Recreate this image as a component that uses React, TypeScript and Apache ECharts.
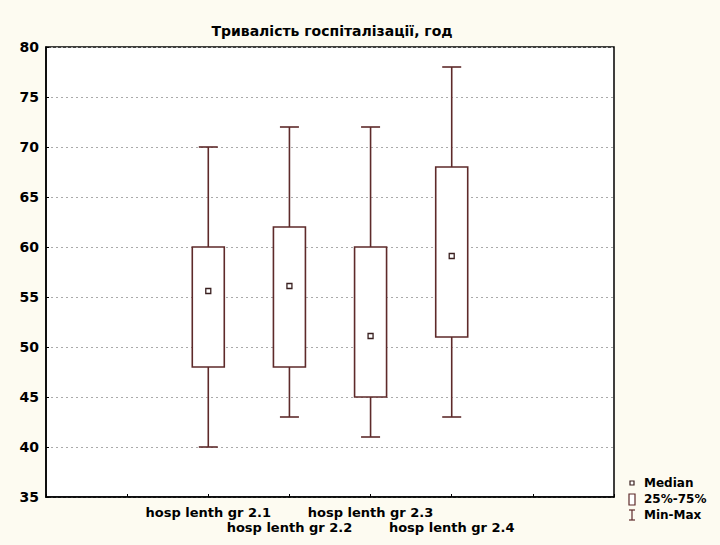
import React, { useEffect, useRef } from "react";
import * as echarts from "echarts";

const titleText = "Тривалість госпіталізації, год";
const categories = ["hosp lenth gr 2.1", "hosp lenth gr 2.2", "hosp lenth gr 2.3", "hosp lenth gr 2.4"];
const positions = [2, 3, 4, 5];
const mins = [40, 43, 41, 43];
const q1s = [48, 48, 45, 51];
const medians = [55.6, 56.1, 51.1, 59.1];
const q3s = [60, 62, 60, 68];
const maxs = [70, 72, 72, 78];
const legendLabels = ["Median", "25%-75%", "Min-Max"];

const BOX = "#5e2a2a";
const FONT = "DejaVu Sans, Liberation Sans, sans-serif";

export default function App() {
  const ref = useRef<HTMLDivElement>(null);
  useEffect(() => {
    if (!ref.current) return;
    const chart = echarts.init(ref.current, undefined, { renderer: "svg" });
    const data = positions.map((p, i) => [p, mins[i], q1s[i], medians[i], q3s[i], maxs[i]]);
    const lx = 630;
    chart.setOption({
      animation: false,
      backgroundColor: "#fdfbf1",
      title: {
        text: titleText,
        left: 327,
        top: 19,
        textAlign: "center",
        textStyle: { fontSize: 14, fontWeight: "bold", color: "#000", fontFamily: FONT },
      },
      grid: {
        left: 46,
        right: 106,
        top: 47,
        bottom: 48,
        show: true,
        backgroundColor: "#ffffff",
        borderColor: "#000",
        borderWidth: 1.5,
      },
      xAxis: {
        type: "value",
        min: 0,
        max: 7,
        interval: 1,
        axisLine: { show: true, lineStyle: { color: "#000", width: 1.5 } },
        axisTick: { show: true, inside: true, length: 3, lineStyle: { color: "#000" } },
        splitLine: { show: false },
        axisLabel: {
          color: "#000",
          fontSize: 13,
          fontWeight: "bold",
          fontFamily: FONT,
          margin: 8,
          lineHeight: 15,
          formatter: (v: number) => {
            const i = positions.indexOf(v);
            if (i < 0) return "";
            return i % 2 === 1 ? "\n" + categories[i] : categories[i];
          },
        },
      },
      yAxis: {
        type: "value",
        min: 35,
        max: 80,
        interval: 5,
        axisLine: { show: true, lineStyle: { color: "#000", width: 1.5 } },
        axisTick: { show: true, inside: true, length: 3, lineStyle: { color: "#000" } },
        splitLine: { show: true, lineStyle: { color: "#aaaaaa", type: [2, 3], width: 1 } },
        axisLabel: {
          color: "#000",
          fontSize: 14,
          fontWeight: "bold",
          fontFamily: FONT,
          margin: 7,
        },
      },
      series: [
        {
          type: "custom",
          data,
          renderItem: (params: any, api: any) => {
            const x = api.value(0);
            const pMin = api.coord([x, api.value(1)]);
            const pQ1 = api.coord([x, api.value(2)]);
            const pMed = api.coord([x, api.value(3)]);
            const pQ3 = api.coord([x, api.value(4)]);
            const pMax = api.coord([x, api.value(5)]);
            const cx = pMin[0];
            const bw = 32;
            const cw = 19;
            const ls = { stroke: BOX, lineWidth: 1.6, fill: "none" };
            return {
              type: "group",
              children: [
                { type: "line", shape: { x1: cx, y1: pMax[1], x2: cx, y2: pQ3[1] }, style: ls },
                { type: "line", shape: { x1: cx, y1: pQ1[1], x2: cx, y2: pMin[1] }, style: ls },
                { type: "line", shape: { x1: cx - cw / 2, y1: pMax[1], x2: cx + cw / 2, y2: pMax[1] }, style: ls },
                { type: "line", shape: { x1: cx - cw / 2, y1: pMin[1], x2: cx + cw / 2, y2: pMin[1] }, style: ls },
                { type: "rect", shape: { x: cx - bw / 2, y: pQ3[1], width: bw, height: pQ1[1] - pQ3[1] }, style: { stroke: BOX, lineWidth: 1.6, fill: "#fff" } },
                { type: "rect", shape: { x: cx - 2.5, y: pMed[1] - 2.5, width: 5, height: 5 }, style: { stroke: "#3a2020", lineWidth: 1.3, fill: "#fff" } },
              ],
            };
          },
        },
      ],
      graphic: [
        { type: "rect", shape: { x: lx, y: 481, width: 4, height: 4 }, style: { stroke: "#3a2020", lineWidth: 1.2, fill: "#fff" } },
        { type: "rect", shape: { x: lx - 1, y: 494, width: 6, height: 11 }, style: { stroke: BOX, lineWidth: 1.2, fill: "#fff" } },
        { type: "line", shape: { x1: lx + 2, y1: 510, x2: lx + 2, y2: 520 }, style: { stroke: BOX, lineWidth: 1.2 } },
        { type: "line", shape: { x1: lx - 1, y1: 510, x2: lx + 5, y2: 510 }, style: { stroke: BOX, lineWidth: 1.2 } },
        { type: "line", shape: { x1: lx - 1, y1: 520, x2: lx + 5, y2: 520 }, style: { stroke: BOX, lineWidth: 1.2 } },
        ...legendLabels.map((t, i) => ({
          type: "text",
          x: 644,
          y: 483 + i * 16,
          style: { text: t, fill: "#000", fontSize: 12, fontWeight: "bold", fontFamily: FONT, verticalAlign: "middle" },
        })),
      ],
    });
    return () => chart.dispose();
  }, []);
  return <div ref={ref} style={{ position: "fixed", left: 0, top: 0, width: 720, height: 545 }} />;
}
